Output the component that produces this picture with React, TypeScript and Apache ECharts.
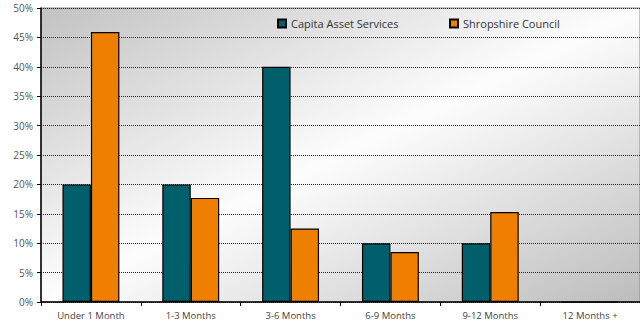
import React, { useEffect, useRef } from "react";
import * as echarts from "echarts";

const categories = ["Under 1 Month", "1-3 Months", "3-6 Months", "6-9 Months", "9-12 Months", "12 Months +"];
const capitaValues = [20, 20, 40, 10, 10, 0];
const shropshireValues = [45.9, 17.7, 12.5, 8.5, 15.3, 0];
const seriesNames = ["Capita Asset Services", "Shropshire Council"];

export default function App() {
  const ref = useRef<HTMLDivElement>(null);
  useEffect(() => {
    document.body.style.margin = "0";
    const chart = echarts.init(ref.current!, null, { renderer: "svg" });
    const font = "'Open Sans', 'DejaVu Sans', sans-serif";
    chart.setOption({
      animation: false,
      backgroundColor: "#ffffff",
      textStyle: { fontFamily: font },
      grid: {
        left: 41,
        top: 8,
        width: 600,
        height: 294,
        show: true,
        borderColor: "#8a8a8a",
        borderWidth: 1,
        backgroundColor: new echarts.graphic.LinearGradient(0, 0, 1, 1, [
          { offset: 0, color: "#c2c2c2" },
          { offset: 0.5, color: "#fdfdfd" },
          { offset: 1, color: "#bcbcbc" },
        ]),
      },
      legend: [
        {
          data: [seriesNames[0]],
          left: 277,
          top: 18,
          padding: 0,
          itemWidth: 8,
          itemHeight: 8,
          itemGap: 4,
          icon: "rect",
          textStyle: { fontSize: 11, color: "#333", fontFamily: font },
        },
        {
          data: [seriesNames[1]],
          left: 449,
          top: 18,
          padding: 0,
          itemWidth: 8,
          itemHeight: 8,
          itemGap: 4,
          icon: "rect",
          textStyle: { fontSize: 11, color: "#333", fontFamily: font },
        },
      ],
      xAxis: {
        type: "category",
        data: categories,
        axisLine: { show: true, lineStyle: { color: "#000", width: 1.5 } },
        axisTick: { show: true, length: 4, lineStyle: { color: "#000" } },
        axisLabel: { fontSize: 9.5, color: "#444", margin: 8, fontFamily: font },
      },
      yAxis: {
        type: "value",
        min: 0,
        max: 50,
        interval: 5,
        axisLine: { show: true, lineStyle: { color: "#000", width: 1.5 } },
        axisTick: { show: true, length: 4, lineStyle: { color: "#000" } },
        axisLabel: { formatter: "{value}%", fontSize: 10, color: "#555", margin: 8, fontFamily: font },
        splitLine: { show: true, lineStyle: { color: "#222", type: [1, 1], width: 1 } },
      },
      series: [
        {
          name: seriesNames[0],
          type: "bar",
          data: capitaValues,
          barGap: "0%",
          barCategoryGap: "43%",
          itemStyle: { color: "#005f6b", borderColor: "#000", borderWidth: 1.2 },
        },
        {
          name: seriesNames[1],
          type: "bar",
          data: shropshireValues,
          barGap: "0%",
          barCategoryGap: "43%",
          itemStyle: { color: "#ee7f00", borderColor: "#000", borderWidth: 1.2 },
        },
      ],
    });
    return () => chart.dispose();
  }, []);
  return <div ref={ref} style={{ width: 640, height: 321 }} />;
}
